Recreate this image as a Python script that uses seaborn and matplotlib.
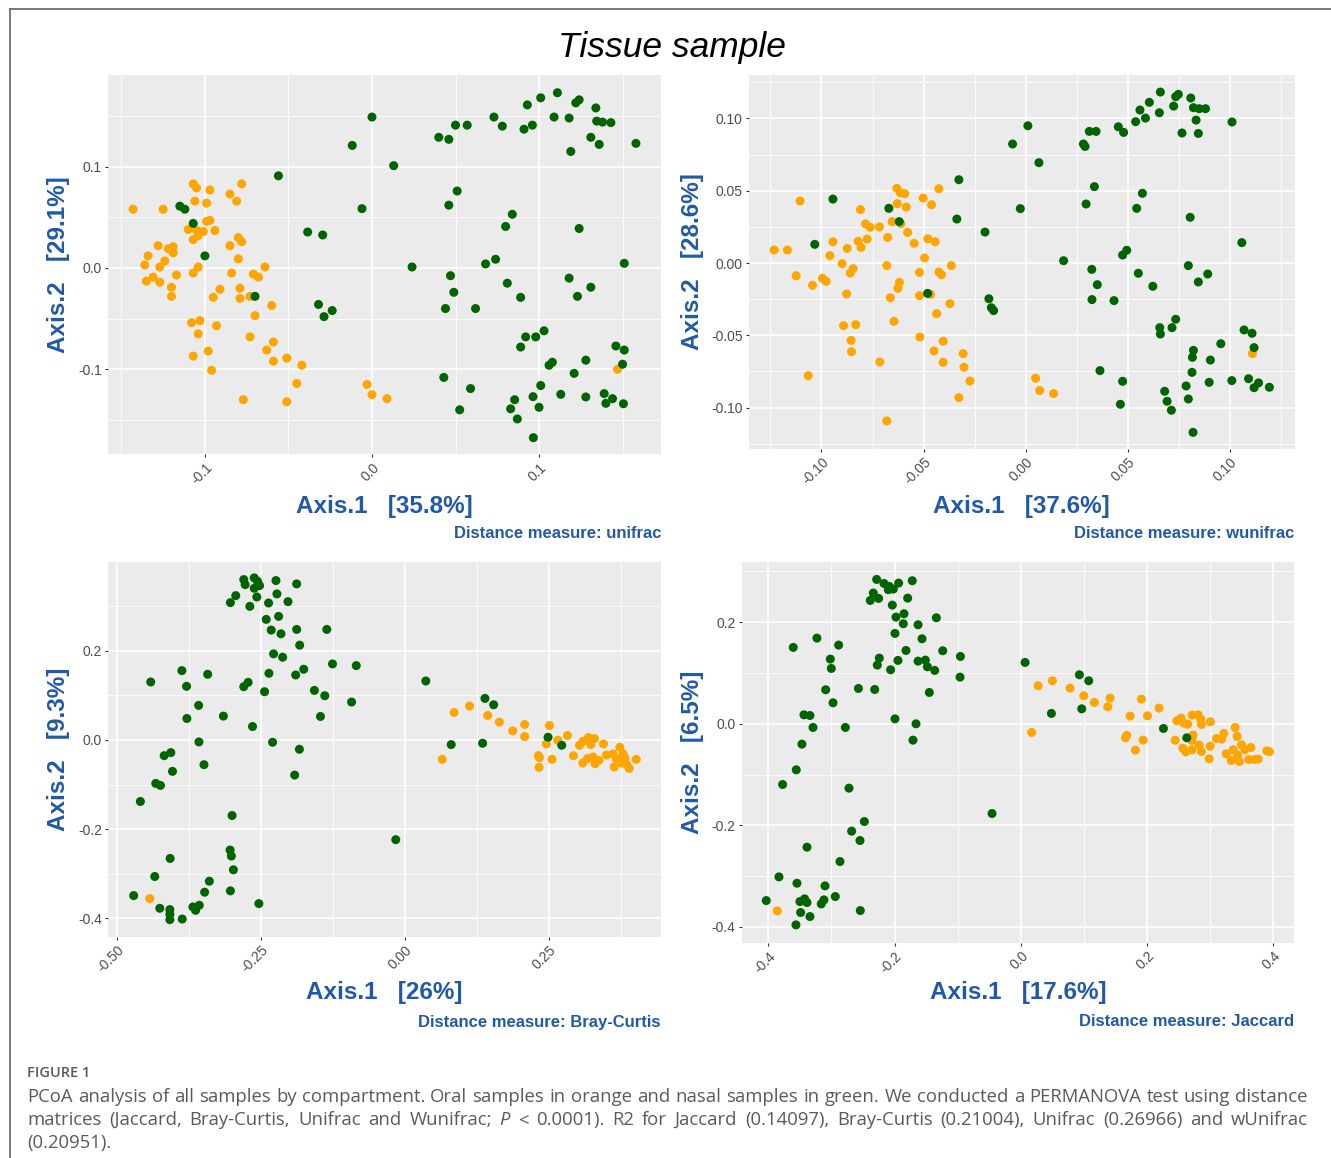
import matplotlib
matplotlib.use("Agg")
import matplotlib.pyplot as plt
import pandas as pd
import seaborn as sns
from matplotlib.lines import Line2D
from matplotlib import font_manager

plt.rcParams['font.family'] = ['Liberation Sans', 'DejaVu Sans']

# ---------------- data (Axis.1, Axis.2) ----------------
unifrac_oral = [(-0.143,0.058),(-0.125,0.058),(-0.107,0.083),(-0.105,0.079),(-0.097,0.077),(-0.106,0.066),(-0.099,0.064),(-0.085,0.073),(-0.081,0.066),(-0.078,0.083),
(-0.110,0.038),(-0.107,0.028),(-0.104,0.032),(-0.101,0.036),(-0.105,0.037),(-0.099,0.046),(-0.097,0.047),(-0.094,0.037),(-0.085,0.022),(-0.080,0.030),(-0.078,0.026),
(-0.128,0.022),(-0.122,0.019),(-0.119,0.015),(-0.119,0.021),(-0.134,0.012),(-0.136,0.003),(-0.127,0.001),(-0.124,0.007),
(-0.135,-0.013),(-0.131,-0.009),(-0.127,-0.014),(-0.120,-0.019),(-0.120,-0.028),(-0.117,-0.007),(-0.107,-0.005),(-0.104,0.001),
(-0.080,0.009),(-0.084,-0.005),(-0.071,-0.006),(-0.068,-0.009),(-0.064,0.001),
(-0.091,-0.021),(-0.095,-0.029),(-0.079,-0.020),(-0.079,-0.030),(-0.073,-0.028),(-0.060,-0.037),(-0.070,-0.047),
(-0.108,-0.054),(-0.103,-0.052),(-0.104,-0.065),(-0.093,-0.057),(-0.073,-0.068),(-0.059,-0.073),(-0.063,-0.081),(-0.059,-0.092),(-0.051,-0.089),(-0.042,-0.096),
(-0.107,-0.087),(-0.098,-0.082),(-0.096,-0.101),(-0.045,-0.114),(-0.077,-0.130),(-0.051,-0.132),
(-0.003,-0.115),(0.000,-0.125),(0.009,-0.129),(0.147,-0.100)]
unifrac_nasal = [(-0.115,0.061),(-0.112,0.058),(-0.107,0.044),(-0.100,0.012),(-0.070,-0.028),(-0.056,0.091),(-0.0385,0.0355),(-0.0295,0.0326),(-0.032,-0.036),(-0.0287,-0.048),(-0.0238,-0.042),(-0.0118,0.121),(-0.006,0.0586),
(0.000,0.149),(0.013,0.101),(0.040,0.129),(0.046,0.127),(0.050,0.141),(0.057,0.141),(0.073,0.149),(0.078,0.140),(0.091,0.137),(0.096,0.141),(0.093,0.161),(0.101,0.168),(0.111,0.173),(0.109,0.149),(0.118,0.148),(0.122,0.163),(0.124,0.166),(0.134,0.158),(0.1345,0.145),(0.138,0.144),(0.143,0.1435),(0.131,0.129),(0.136,0.122),(0.119,0.115),(0.158,0.123),
(0.051,0.076),(0.046,0.062),(0.084,0.053),(0.080,0.041),(0.124,0.039),(0.024,0.001),(0.068,0.004),(0.074,0.0086),(0.151,0.0046),(0.047,-0.0076),(0.049,-0.024),(0.044,-0.040),(0.062,-0.040),(0.081,-0.015),(0.089,-0.029),(0.118,-0.010),(0.123,-0.028),(0.131,-0.019),
(0.103,-0.062),(0.092,-0.068),(0.098,-0.068),(0.089,-0.078),(0.106,-0.096),(0.108,-0.093),(0.128,-0.091),(0.146,-0.077),(0.151,-0.081),(0.150,-0.095),(0.121,-0.104),(0.101,-0.116),(0.043,-0.108),(0.059,-0.119),(0.0525,-0.140),(0.0854,-0.130),(0.083,-0.139),(0.087,-0.149),(0.0964,-0.127),(0.100,-0.1375),(0.0966,-0.1675),(0.113,-0.1247),(0.128,-0.1273),(0.139,-0.124),(0.140,-0.1336),(0.144,-0.129),(0.1505,-0.134)]

wunifrac_oral = [(-0.1232,0.009),(-0.1167,0.009),(-0.1105,0.0429),(-0.1124,-0.0088),(-0.1044,-0.0154),(-0.0995,-0.0106),(-0.0977,-0.0127),(-0.1065,-0.0779),(-0.0959,0.0051),(-0.0944,0.0147),(-0.0899,-0.0005),(-0.0874,0.0101),(-0.0859,-0.0069),(-0.0845,-0.0039),(-0.0877,-0.0214),(-0.0892,-0.0433),(-0.0832,-0.0426),(-0.0855,-0.0535),(-0.0853,-0.0613),(-0.0809,0.0369),(-0.0820,0.0150),(-0.0806,0.0108),(-0.0776,0.0166),(-0.0784,0.0270),(-0.0761,0.0247),(-0.0716,0.0249),(-0.0676,0.0177),(-0.0680,-0.0018),(-0.0654,0.0286),(-0.0611,0.0272),(-0.0631,0.0516),(-0.0614,0.0486),(-0.0592,0.0479),(-0.0629,0.0410),(-0.0585,0.0387),(-0.0578,0.0212),(-0.0546,0.0136),(-0.0663,-0.0240),(-0.0618,-0.0134),(-0.0626,-0.0175),(-0.0645,-0.0403),(-0.0714,-0.0684),(-0.0680,-0.1092),(-0.0502,0.0449),(-0.0461,0.0403),(-0.0425,0.0514),(-0.0479,0.0168),(-0.0443,0.0147),(-0.0495,0.0035),(-0.0520,-0.0065),(-0.0520,-0.0226),(-0.0466,-0.0217),(-0.0425,-0.0062),(-0.0412,-0.0081),(-0.0364,-0.0018),(-0.0436,-0.0350),(-0.0371,-0.0281),(-0.0518,-0.0512),(-0.0404,-0.0541),(-0.0449,-0.0608),(-0.0404,-0.0687),(-0.0306,-0.0627),(-0.0302,-0.0721),(-0.0273,-0.0816),(-0.0327,-0.0931),(0.0049,-0.0797),(0.0069,-0.0882),(0.0137,-0.0903),(0.1111,-0.0627)]
wunifrac_nasal = [(-0.0944,0.0442),(-0.1033,0.0129),(-0.0670,0.0378),(-0.0619,0.0286),(-0.0327,0.0576),(-0.0337,0.0304),(-0.0199,0.0214),(-0.0480,-0.0210),(-0.0180,-0.0247),(-0.0168,-0.0309),(-0.0157,-0.0329),
(-0.0064,0.0823),(0.0011,0.0949),(0.0065,0.0694),(-0.0026,0.0376),(0.0283,0.0823),(0.0291,0.0806),(0.0312,0.0910),(0.0345,0.0910),(0.0454,0.0942),(0.0480,0.0903),(0.0539,0.0977),(0.0560,0.1058),(0.0587,0.1002),(0.0606,0.1111),(0.0655,0.1039),(0.0660,0.1182),(0.0725,0.1085),(0.0735,0.1150),(0.0748,0.1166),(0.0809,0.1141),(0.0822,0.1074),(0.0850,0.1067),(0.0881,0.1067),(0.0835,0.0988),(0.0766,0.0899),(0.0846,0.0896),(0.1011,0.0975),
(0.0337,0.0528),(0.0572,0.0482),(0.0296,0.0408),(0.0544,0.0378),(0.0806,0.0316),(0.1059,0.0141),(0.0186,0.0016),(0.0495,0.0088),(0.0475,0.0055),(0.0324,-0.0044),(0.0552,-0.0071),(0.0797,-0.0018),(0.0892,-0.0076),(0.0846,-0.0131),(0.0351,-0.0150),(0.0623,-0.0161),(0.0325,-0.0253),(0.0433,-0.0260),
(0.0735,-0.0389),(0.0657,-0.0447),(0.0717,-0.0447),(0.0660,-0.0491),(0.1070,-0.0463),(0.1109,-0.0486),(0.0956,-0.0558),(0.1119,-0.0585),(0.0822,-0.0604),(0.0817,-0.0652),(0.0905,-0.0671),(0.0815,-0.0756),(0.0364,-0.0744),(0.0475,-0.0818),(0.0899,-0.0825),(0.1010,-0.0813),(0.1092,-0.0800),(0.1141,-0.0829),(0.1119,-0.0862),(0.1194,-0.0859),(0.0786,-0.0850),(0.0797,-0.0940),(0.0681,-0.0887),(0.0693,-0.0956),(0.0714,-0.1018),(0.0464,-0.0977),(0.0820,-0.1171)]

bray_oral = [(-0.4430,-0.3556),(0.0650,-0.0435),(0.0858,0.0615),(0.1125,0.0758),(0.1439,0.0548),(0.1642,0.0398),(0.1874,0.0203),(0.2082,0.0345),(0.2082,0.0075),(0.2512,0.0323),(0.2459,-0.0090),(0.2320,-0.0353),(0.2338,-0.0398),(0.2332,-0.0615),(0.2558,-0.0435),(0.2657,-0.0008),(0.2825,0.0098),(0.2929,-0.0353),(0.3034,-0.0120),(0.3097,-0.0030),(0.3190,0.0053),(0.3295,0.0030),(0.3231,-0.0105),(0.3451,-0.0090),(0.3092,-0.0518),(0.3173,-0.0420),(0.3271,-0.0383),(0.3306,-0.0533),(0.3370,-0.0458),(0.3503,-0.0338),(0.3619,-0.0315),(0.3735,-0.0165),(0.3794,-0.0315),(0.3677,-0.0420),(0.3637,-0.0608),(0.3765,-0.0518),(0.3852,-0.0555),(0.3898,-0.0638),(0.4020,-0.0435),(0.3823,-0.0405)]
bray_nasal = [(-0.2797,0.3593),(-0.2773,0.3481),(-0.2616,0.3631),(-0.2558,0.3556),(-0.2523,0.3458),(-0.2616,0.3398),(-0.2238,0.3571),(-0.1878,0.3496),(-0.3029,0.3076),(-0.2936,0.3233),(-0.2692,0.2993),(-0.2570,0.3203),(-0.2366,0.3068),(-0.2221,0.3271),(-0.2029,0.3098),(-0.2192,0.2768),(-0.2407,0.2701),(-0.2320,0.2461),(-0.2151,0.2378),(-0.1878,0.2476),(-0.1355,0.2476),(-0.1826,0.2123),(-0.2279,0.1928),(-0.2122,0.1853),(-0.1256,0.1703),(-0.0843,0.1665),(-0.1756,0.1583),(-0.2360,0.1493),(-0.1895,0.1455),
(-0.3872,0.1553),(-0.3424,0.1470),(-0.4413,0.1298),(-0.3791,0.1200),(-0.2797,0.1193),(-0.2721,0.1290),(-0.2436,0.1080),(-0.1570,0.1110),(-0.1390,0.0990),(-0.0924,0.0848),(-0.3581,0.0773),(-0.3785,0.0480),(-0.3151,0.0533),(-0.2645,0.0300),(-0.1465,0.0525),
(-0.3576,-0.0045),(-0.2297,-0.0053),(-0.1831,-0.0210),(-0.4180,-0.0353),(-0.4064,-0.0285),(-0.4035,-0.0705),(-0.3488,-0.0555),(-0.4326,-0.0975),(-0.4244,-0.1020),(-0.1913,-0.0788),(-0.4593,-0.1380),(-0.3000,-0.1695),
(-0.3035,-0.2468),(-0.3012,-0.2603),(-0.2977,-0.2911),(-0.4076,-0.2656),(-0.4343,-0.3061),(-0.3395,-0.3166),(-0.3477,-0.3413),(-0.3029,-0.3383),(-0.4709,-0.3488),(-0.4256,-0.3773),(-0.4081,-0.3803),(-0.4081,-0.3908),(-0.4081,-0.4028),(-0.3866,-0.4014),(-0.3680,-0.3743),(-0.3634,-0.3818),(-0.3570,-0.3706),(-0.2535,-0.3668),
(0.0365,0.1320),(0.1392,0.0930),(0.1543,0.0788),(0.0806,-0.0105),(0.1351,-0.0075),(0.2488,0.0060),(0.2726,-0.0120),(-0.0157,-0.2236)]

jaccard_oral = [(-0.3857,-0.3684),(0.0273,0.0749),(0.0500,0.0847),(0.0779,0.0703),(0.0996,0.0552),(0.1165,0.0420),(0.1413,0.0506),(0.1376,0.0335),(0.0172,-0.0171),(0.1730,0.0151),(0.1909,0.0486),(0.2004,0.0158),(0.2189,0.0309),(0.1677,-0.0230),(0.1656,-0.0276),(0.1936,-0.0322),(0.1814,-0.0519),(0.2443,-0.0322),(0.2469,0.0059),(0.2538,0.0112),(0.2579,0.0013),(0.2643,-0.0007),(0.2712,0.0171),(0.2807,0.0177),(0.2849,0.0092),(0.2860,-0.0013),(0.3002,0.0039),(0.2728,-0.0223),(0.2707,-0.0328),(0.2564,-0.0479),(0.2612,-0.0552),(0.2707,-0.0512),(0.2823,-0.0420),(0.2860,-0.0545),(0.2997,-0.0440),(0.2981,-0.0689),(0.3098,-0.0289),(0.3177,-0.0302),(0.3214,-0.0190),(0.3251,-0.0591),(0.3330,-0.0722),(0.3362,-0.0512),(0.3393,-0.0072),(0.3425,-0.0250),(0.3431,-0.0617),(0.3462,-0.0742),(0.3494,-0.0414),(0.3547,-0.0512),(0.3610,-0.0703),(0.3642,-0.0466),(0.3700,-0.0703),(0.3759,-0.0696),(0.3895,-0.0532),(0.3937,-0.0552)]
jaccard_nasal = [(-0.2283,0.2843),(-0.2167,0.2764),(-0.2083,0.2705),(-0.2019,0.2653),(-0.1935,0.2771),(-0.1719,0.2817),(-0.2336,0.2574),(-0.2384,0.2429),(-0.2252,0.2469),(-0.2099,0.2640),(-0.1792,0.2475),(-0.2035,0.2337),(-0.1977,0.2101),(-0.1850,0.2167),(-0.1861,0.1970),(-0.1628,0.1950),(-0.1338,0.2088),(-0.1993,0.1779),(-0.1565,0.1674),
(-0.3229,0.1687),(-0.2885,0.1550),(-0.3604,0.1504),(-0.3017,0.1274),(-0.3001,0.1090),(-0.2241,0.1293),(-0.2273,0.1156),(-0.2062,0.1064),(-0.1946,0.1248),(-0.1819,0.1445),(-0.1628,0.1234),(-0.1512,0.1254),(-0.1480,0.1123),(-0.1364,0.1051),(-0.1237,0.1438),(-0.0957,0.1326),(-0.0963,0.0919),(-0.1449,0.0617),
(-0.3090,0.0670),(-0.2572,0.0696),(-0.2314,0.0676),(-0.2974,0.0414),(-0.3434,0.0177),(-0.3339,0.0164),(-0.3291,-0.0072),(-0.2779,-0.0072),(-0.1993,0.0098),(-0.1660,0.0),(-0.1708,-0.0322),(-0.3466,-0.0401),(-0.3556,-0.0906),(-0.3772,-0.1195),(-0.2721,-0.1267),
(-0.2478,-0.1924),(-0.2679,-0.2114),(-0.2547,-0.2298),(-0.3386,-0.2429),(-0.2864,-0.2712),(-0.3830,-0.3014),(-0.3545,-0.3139),(-0.3101,-0.3191),(-0.4031,-0.3480),(-0.3498,-0.3500),(-0.3424,-0.3447),(-0.3386,-0.3519),(-0.3487,-0.3716),(-0.3339,-0.3795),(-0.3561,-0.3959),(-0.3160,-0.3546),(-0.3118,-0.3467),(-0.2938,-0.3401),(-0.2542,-0.3677),(-0.0456,-0.1766),
(0.0067,0.1208),(0.0927,0.0965),(0.1075,0.0847),(0.0484,0.0204),(0.0964,0.0295),(0.2258,-0.0092),(0.2628,-0.0276)]

x_labels = ['Axis.1   [35.8%]', 'Axis.1   [37.6%]', 'Axis.1   [26%]', 'Axis.1   [17.6%]']
y_labels = ['Axis.2   [29.1%]', 'Axis.2   [28.6%]', 'Axis.2   [9.3%]', 'Axis.2   [6.5%]']
distance_names = ['unifrac', 'wunifrac', 'Bray-Curtis', 'Jaccard']

ticks_p1 = [-0.1, 0.0, 0.1];            tlab_p1 = ['-0.1', '0.0', '0.1']
ticks_p2 = [-0.10, -0.05, 0.0, 0.05, 0.10]; tlab_p2 = ['-0.10', '-0.05', '0.00', '0.05', '0.10']
xt_p3 = [-0.5, -0.25, 0.0, 0.25];       xl_p3 = ['-0.50', '-0.25', '0.00', '0.25']
yt_p34 = [-0.4, -0.2, 0.0, 0.2];        yl_p34 = ['-0.4', '-0.2', '0.0', '0.2']
xt_p4 = [-0.4, -0.2, 0.0, 0.2, 0.4];    xl_p4 = ['-0.4', '-0.2', '0.0', '0.2', '0.4']

caption_head = 'FIGURE 1'
caption_lines = [
    'PCoA analysis of all samples by compartment. Oral samples in orange and nasal samples in green. We conducted a PERMANOVA test using distance',
    'matrices (Jaccard, Bray-Curtis, Unifrac and Wunifrac; *P* < 0.0001). R2 for Jaccard (0.14097), Bray-Curtis (0.21004), Unifrac (0.26966) and wUnifrac',
    '(0.20951).',
]

# ---------------- layout ----------------
W, H = 1331, 1158
fig = plt.figure(figsize=(W / 100, H / 100), dpi=100)
ORANGE, GREEN, BLUE = '#FFA500', '#006400', '#2159A8'


def fx(x):
    return x / W


def fy(y):
    return 1 - y / H


panels = [
    dict(box=(108, 75, 661, 454), oral=unifrac_oral, nasal=unifrac_nasal,
         xlim=(-0.158, 0.173), ylim=(-0.1836, 0.1905),
         xt=ticks_p1, xl=tlab_p1, yt=ticks_p1, yl=tlab_p1,
         xm=[-0.15, -0.05, 0.05, 0.15], ym=[-0.15, -0.05, 0.05, 0.15],
         xlab_y=506, ylab_x=59, dist_y=534),
    dict(box=(749, 75, 1294.5, 449), oral=wunifrac_oral, nasal=wunifrac_nasal,
         xlim=(-0.1355, 0.1317), ylim=(-0.1286, 0.130),
         xt=ticks_p2, xl=tlab_p2, yt=ticks_p2, yl=tlab_p2,
         xm=[-0.125, -0.075, -0.025, 0.025, 0.075, 0.125], ym=[-0.125, -0.075, -0.025, 0.025, 0.075, 0.125],
         xlab_y=506, ylab_x=692, dist_y=534),
    dict(box=(108.3, 562.3, 661, 936.7), oral=bray_oral, nasal=bray_nasal,
         xlim=(-0.515, 0.445), ylim=(-0.441, 0.398),
         xt=xt_p3, xl=xl_p3, yt=yt_p34, yl=yl_p34,
         xm=[-0.375, -0.125, 0.125, 0.375], ym=[-0.3, -0.1, 0.1, 0.3],
         xlab_y=993, ylab_x=59, dist_y=1022),
    dict(box=(741.7, 562.3, 1294.3, 942.7), oral=jaccard_oral, nasal=jaccard_nasal,
         xlim=(-0.442, 0.433), ylim=(-0.431, 0.318),
         xt=xt_p4, xl=xl_p4, yt=yt_p34, yl=yl_p34,
         xm=[-0.3, -0.1, 0.1, 0.3], ym=[-0.3, -0.1, 0.1, 0.3],
         xlab_y=993, ylab_x=692, dist_y=1021),
]

for i, p in enumerate(panels):
    l, t, r, b = p['box']
    ax = fig.add_axes([fx(l), fy(b), (r - l) / W, (b - t) / H])
    df = pd.DataFrame(p['oral'] + p['nasal'], columns=['Axis.1', 'Axis.2'])
    df['Compartment'] = ['Oral'] * len(p['oral']) + ['Nasal'] * len(p['nasal'])
    ax.set_facecolor('#EBEBEB')
    sns.scatterplot(data=df, x='Axis.1', y='Axis.2', hue='Compartment',
                    palette={'Oral': ORANGE, 'Nasal': GREEN}, s=42, linewidth=0,
                    legend=False, ax=ax, zorder=3)
    ax.set_xlim(*p['xlim'])
    ax.set_ylim(*p['ylim'])
    ax.set_xticks(p['xt'])
    ax.set_xticklabels(p['xl'], rotation=45, ha='right', va='top', rotation_mode='anchor')
    ax.set_yticks(p['yt'])
    ax.set_yticklabels(p['yl'])
    ax.set_xticks(p['xm'], minor=True)
    ax.set_yticks(p['ym'], minor=True)
    ax.grid(which='major', color='white', linewidth=1.2)
    ax.grid(which='minor', color='white', linewidth=0.6)
    ax.set_axisbelow(True)
    for sp in ax.spines.values():
        sp.set_visible(False)
    ax.tick_params(which='major', length=2.5, width=0.8, color='#333333',
                   labelsize=10, labelcolor='#4D4D4D', pad=2)
    ax.tick_params(which='minor', length=0)
    ax.set_xlabel('')
    ax.set_ylabel('')
    cx = (l + r) / 2
    cy = (t + b) / 2
    fig.text(fx(cx), fy(p['xlab_y']), x_labels[i], fontsize=17.5, fontweight='bold',
             color=BLUE, ha='center', va='center')
    fig.text(fx(p['ylab_x']), fy(cy), y_labels[i], fontsize=17.5, fontweight='bold',
             color=BLUE, ha='center', va='center', rotation=90)
    fig.text(fx(r), fy(p['dist_y']), 'Distance measure: ' + distance_names[i],
             fontsize=12, fontweight='bold', color=BLUE, ha='right', va='center')

installed = {f.name for f in font_manager.fontManager.ttflist}
if 'Liberation Sans Narrow' in installed:
    title_family, title_fs = ['Liberation Sans Narrow', 'DejaVu Sans'], 29
else:
    title_family, title_fs = ['Liberation Sans', 'DejaVu Sans'], 25.5
fig.text(fx(672), fy(48), 'Tissue sample', fontsize=title_fs, fontstyle='italic',
         family=title_family, ha='center', va='center', color='black')

# frame
fig.add_artist(Line2D([fx(9.5), 1.0], [fy(8.5), fy(8.5)], color='#707070', linewidth=1.3))
fig.add_artist(Line2D([fx(9.5), fx(9.5)], [fy(8.5), 0.0], color='#707070', linewidth=1.3))

# caption
CAP = '#5A5A5A'
cap_font = ['Open Sans', 'DejaVu Sans']
fig.text(fx(27), fy(1073), caption_head, fontsize=10.5, fontweight='semibold', color=CAP,
         family=cap_font, ha='left', va='center')

renderer = fig.canvas.get_renderer()
X0, X1 = 27, 1308
line_y = [1097, 1120, 1143]

# choose a font size so that the first line naturally fills the measure
probe = fig.text(0, 0, caption_lines[0], fontsize=12, family=cap_font)
natural = probe.get_window_extent(renderer).width
probe.remove()
cap_fs = 12 * (X1 - X0) * 0.985 / natural


def tokens_of(line):
    out = []
    for w in line.split(' '):
        if w.startswith('*') and w.endswith('*') and len(w) > 2:
            out.append((w.strip('*'), 'italic'))
        else:
            out.append((w, 'normal'))
    return out


for k, line in enumerate(caption_lines):
    toks = tokens_of(line)
    objs = [fig.text(0, fy(line_y[k]), s, fontsize=cap_fs, fontstyle=st, color=CAP,
                     family=cap_font, ha='left', va='center') for s, st in toks]
    ws = [o.get_window_extent(renderer).width for o in objs]
    justify = k < len(caption_lines) - 1
    if justify and len(objs) > 1:
        gap = (X1 - X0 - sum(ws)) / (len(objs) - 1)
    else:
        gap = 0.26 * cap_fs * 100 / 72
    x = X0
    for o, w in zip(objs, ws):
        o.set_x(fx(x))
        x += w + gap

fig.savefig('out.png', dpi=100)
